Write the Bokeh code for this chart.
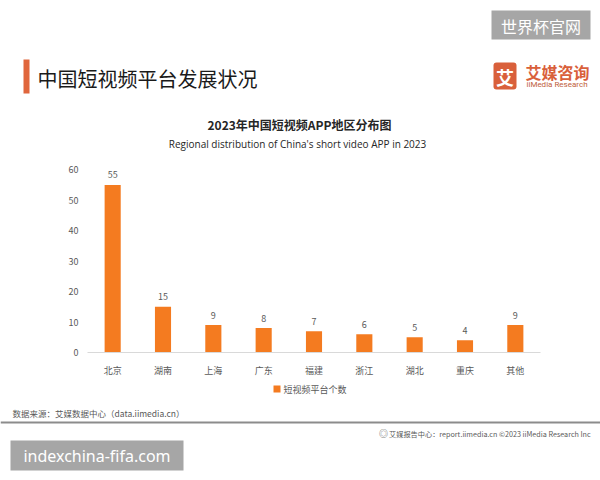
from bokeh.plotting import figure
from bokeh.layouts import column
from bokeh.models import (ColumnDataSource, LabelSet, Label, BoxAnnotation, FixedTicker, Range1d)
from bokeh.core.properties import value
from bokeh.embed import file_html
from bokeh.resources import INLINE

# ---- data ----
categories = ["北京", "湖南", "上海", "广东", "福建", "浙江", "湖北", "重庆", "其他"]
counts = [55, 15, 9, 8, 7, 6, 5, 4, 9]
y_ticks = [0, 10, 20, 30, 40, 50, 60]
series_name = "短视频平台个数"

CJK = "Noto Sans CJK SC"
BAR = "#f47b20"
ORANGE = "#d9603b"
GRAY = "#595959"
FL, FR = 87, 540  # chart frame left / right (canvas px)


def blank(height, y0):
    # decoration strip: frame covers the whole strip, data x == canvas x, y grows downward
    f = figure(width=600, height=height, x_range=Range1d(0, 600), y_range=Range1d(y0 + height, y0),
               x_axis_type=None, y_axis_type=None, output_backend="svg", toolbar_location=None,
               min_border=0, min_border_left=0, min_border_right=0, min_border_top=0,
               min_border_bottom=0, frame_align=False)
    f.outline_line_color = None
    f.xgrid.grid_line_color = None
    f.ygrid.grid_line_color = None
    f.background_fill_color = "white"
    f.border_fill_color = "white"
    return f


def box(f, l, t, rr, b, color, radius=0):
    f.add_layout(BoxAnnotation(left=l, right=rr, top=t, bottom=b,
                               fill_color=color, fill_alpha=1, line_color=None,
                               border_radius=radius))


def text(f, X, Y, s, size, color="#262626", align="left", style="normal", font=CJK):
    f.add_layout(Label(x=X, y=Y, text=s, text_font=font, text_font_size=size, text_color=color,
                       text_align=align, text_baseline="middle", text_font_style=style))


# ---- header (canvas y 0..160) ----
head = blank(160, 0)
box(head, 491, 10, 590, 39, "#a6a6a6")
text(head, 540.5, 25, "世界杯官网", "16px", "white", "center")
box(head, 23, 59, 29, 93, "#e0663c")
text(head, 37, 78, "中国短视频平台发展状况", "20px", "#1a1a1a")
box(head, 493, 62, 516, 89, ORANGE, 3)
text(head, 504.5, 76, "艾", "18px", "white", "center", "bold")
text(head, 525, 71, "艾媒咨询", "16px", ORANGE, "left", "bold")
text(head, 526, 84, "iiMedia Research", "8px", "#c0603b", "left", "normal", "Roboto")
text(head, 299, 124, "2023年中国短视频APP地区分布图", "12px", "#262626", "center", "bold")
text(head, 297, 143, "Regional distribution of China's short video APP in 2023", "10px", "#262626",
     "center", "normal", "Open Sans")

# ---- chart (canvas y 160..380) ----
p = figure(width=600, height=220, x_range=categories, y_range=(0, 63),
           output_backend="svg", toolbar_location=None, frame_align=False,
           min_border_left=FL, min_border_right=600 - FR, min_border_top=0, min_border_bottom=28)
p.outline_line_color = None
p.background_fill_color = "white"
p.border_fill_color = "white"
p.xgrid.grid_line_color = None
p.ygrid.grid_line_color = None
p.x_range.range_padding = 0

src = ColumnDataSource(dict(cat=categories, val=counts, lab=[str(v) for v in counts]))
r = p.vbar(x="cat", top="val", width=0.32, source=src, fill_color=BAR, line_color=None)
p.add_layout(LabelSet(x="cat", y="val", text="lab", source=src, y_offset=10,
                      text_align="center", text_baseline="middle",
                      text_font=value(CJK), text_font_size="9px", text_color=GRAY))

p.yaxis.ticker = FixedTicker(ticks=y_ticks)
p.yaxis.axis_line_color = None
p.yaxis.major_tick_line_color = None
p.yaxis.minor_tick_line_color = None
p.yaxis.major_tick_out = 0
p.yaxis.major_tick_in = 0
p.yaxis.major_label_standoff = 9
p.yaxis.major_label_text_font = CJK
p.yaxis.major_label_text_font_size = "9px"
p.yaxis.major_label_text_color = GRAY

p.xaxis.axis_line_color = "#d9d9d9"
p.xaxis.axis_line_width = 1
p.xaxis.major_tick_line_color = None
p.xaxis.minor_tick_line_color = None
p.xaxis.major_tick_out = 0
p.xaxis.major_tick_in = 0
p.xaxis.major_label_standoff = 11
p.xaxis.major_label_text_font = CJK
p.xaxis.major_label_text_font_size = "9px"
p.xaxis.major_label_text_color = GRAY

# ---- footer (canvas y 380..480) ----
foot = blank(100, 380)
# legend key for the bar series
box(foot, 273, 385, 280, 392, BAR)
text(foot, 283, 388.5, series_name, "9px", GRAY)

text(foot, 12, 412, "数据来源：艾媒数据中心（data.iimedia.cn）", "8.5px", GRAY)
box(foot, 0, 421, 600, 423, "#8c8c8c")
text(foot, 383, 433, "◎", "9px", GRAY, "center")
text(foot, 595, 433, "艾媒报告中心：report.iimedia.cn  ©2023  iiMedia Research  Inc", "7.2px", GRAY, "right")
box(foot, 10, 440, 183, 470, "#a6a6a6")
text(foot, 96.5, 455, "indexchina-fifa.com", "16px", "white", "center", "normal", "Noto Sans")

layout = column(head, p, foot, spacing=0)
open("out.html", "w").write(file_html(layout, INLINE))
